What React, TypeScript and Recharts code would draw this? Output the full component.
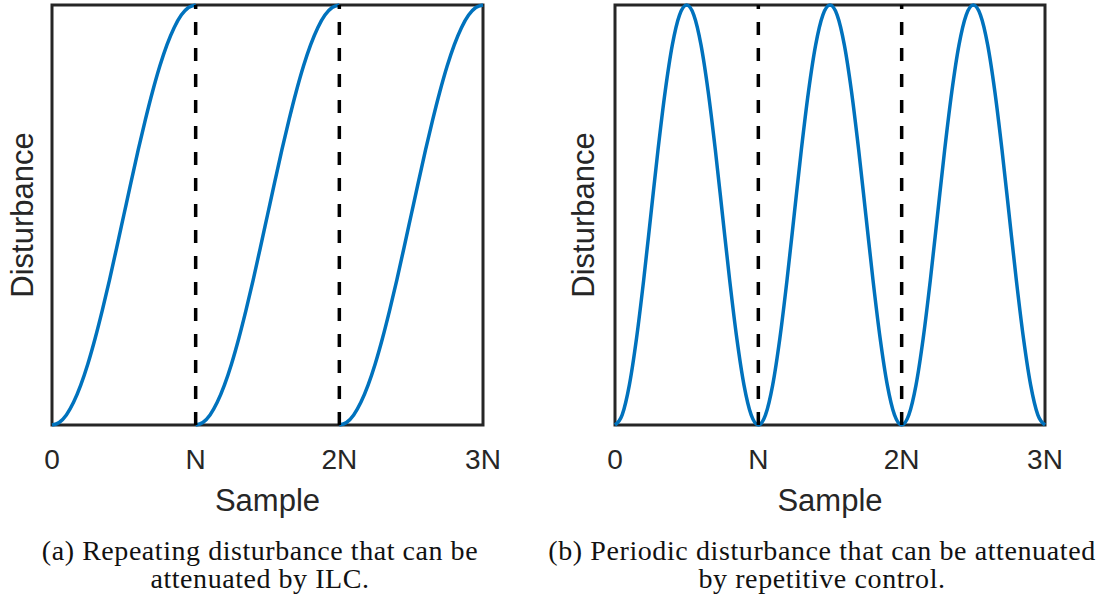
import React from "react";
import { LineChart, Line, XAxis, YAxis, ReferenceLine, ReferenceArea } from "recharts";

// Sample axis: N = 20 sample steps, three periods
const tickValues = [0, 20, 40, 60];
const tickLabels = ["0", "N", "2N", "3N"];
const periodBoundaries = [20, 40];

// (a) Repeating disturbance: one ramp per period, restarting at 0
const ilcCycle1 = [0, 0.006, 0.024, 0.054, 0.095, 0.146, 0.206, 0.273, 0.345, 0.422, 0.5, 0.578, 0.655, 0.727, 0.794, 0.854, 0.905, 0.946, 0.976, 0.994, 1];
const ilcCycle2 = [0, 0.006, 0.024, 0.054, 0.095, 0.146, 0.206, 0.273, 0.345, 0.422, 0.5, 0.578, 0.655, 0.727, 0.794, 0.854, 0.905, 0.946, 0.976, 0.994, 1];
const ilcCycle3 = [0, 0.006, 0.024, 0.054, 0.095, 0.146, 0.206, 0.273, 0.345, 0.422, 0.5, 0.578, 0.655, 0.727, 0.794, 0.854, 0.905, 0.946, 0.976, 0.994, 1];

// (b) Periodic disturbance
const rcValues = [
  0, 0.024, 0.095, 0.206, 0.345, 0.5, 0.655, 0.794, 0.905, 0.976, 1, 0.976, 0.905, 0.794, 0.655, 0.5, 0.345, 0.206, 0.095, 0.024,
  0, 0.024, 0.095, 0.206, 0.345, 0.5, 0.655, 0.794, 0.905, 0.976, 1, 0.976, 0.905, 0.794, 0.655, 0.5, 0.345, 0.206, 0.095, 0.024,
  0, 0.024, 0.095, 0.206, 0.345, 0.5, 0.655, 0.794, 0.905, 0.976, 1, 0.976, 0.905, 0.794, 0.655, 0.5, 0.345, 0.206, 0.095, 0.024,
  0,
];

const captionA = ["(a) Repeating disturbance that can be", "attenuated by ILC."];
const captionB = ["(b) Periodic disturbance that can be attenuated", "by repetitive control."];

const ilcData = rcValues.map((_, i) => ({
  x: i,
  c1: i <= 20 ? ilcCycle1[i] : null,
  c2: i >= 20 && i <= 40 ? ilcCycle2[i - 20] : null,
  c3: i >= 40 ? ilcCycle3[i - 40] : null,
}));
const rcData = rcValues.map((v, i) => ({ x: i, y: v }));

const BLUE = "#0072BD";
const AX = "#262626";
const SANS = "'Liberation Sans', Arial, Helvetica, sans-serif";
const SERIF = "'Liberation Serif', 'Times New Roman', serif";

const fmt = (v: number) => tickLabels[tickValues.indexOf(v)] ?? "";

function YLabel(props: any) {
  const vb = props.viewBox || {};
  const x = vb.x + props.cx;
  const y = vb.y + vb.height / 2;
  return (
    <text
      x={x}
      y={y}
      transform={`rotate(-90, ${x}, ${y})`}
      textAnchor="middle"
      dominantBaseline="central"
      fontFamily={SANS}
      fontSize={31}
      fill={AX}
    >
      Disturbance
    </text>
  );
}

function Panel({ data, keys, yAxisWidth, marginRight, labelCx }: any) {
  return (
    <LineChart
      width={552}
      height={530}
      data={data}
      margin={{ top: 5, right: marginRight, bottom: 5, left: 0 }}
    >
      <XAxis
        dataKey="x"
        type="number"
        domain={[0, 60]}
        ticks={tickValues}
        tickFormatter={fmt}
        axisLine={false}
        tickLine={false}
        tickSize={6}
        tickMargin={18}
        height={100}
        interval={0}
        tick={{ fontFamily: SANS, fontSize: 28, fill: AX }}
        label={{
          value: "Sample",
          position: "insideTop",
          offset: 64,
          style: { fontFamily: SANS, fontSize: 31, fill: AX },
        }}
      />
      <YAxis
        type="number"
        domain={[0, 1]}
        width={yAxisWidth}
        tick={false}
        axisLine={false}
        tickLine={false}
        label={<YLabel cx={labelCx} />}
      />
      <ReferenceArea
        x1={0}
        x2={60}
        y1={0}
        y2={1}
        fill="none"
        fillOpacity={0}
        stroke={AX}
        strokeWidth={3}
        ifOverflow="visible"
      />
      {keys.map((k: string) => (
        <Line
          key={k}
          dataKey={k}
          type="monotone"
          stroke={BLUE}
          strokeWidth={3.5}
          dot={false}
          activeDot={false}
          connectNulls={false}
          isAnimationActive={false}
        />
      ))}
      {periodBoundaries.map((b) => (
        <ReferenceLine
          key={b}
          x={b}
          stroke="#000"
          strokeWidth={3.5}
          strokeDasharray="13 13"
          ifOverflow="visible"
        />
      ))}
    </LineChart>
  );
}

function Caption({ lines, center, spacing }: { lines: string[]; center: number; spacing: number }) {
  return (
    <div
      style={{
        position: "absolute",
        left: center - 320,
        width: 640,
        top: 537,
        textAlign: "center",
        fontFamily: SERIF,
        fontSize: 28,
        lineHeight: "28px",
        letterSpacing: spacing,
        color: "#111",
        whiteSpace: "nowrap",
      }}
    >
      {lines.map((l, i) => (
        <div key={i}>{l}</div>
      ))}
    </div>
  );
}

export default function App() {
  return (
    <div
      style={{
        position: "absolute",
        left: 0,
        top: 0,
        width: 1104,
        height: 601,
        background: "#fff",
        overflow: "hidden",
      }}
    >
      <div style={{ position: "absolute", left: 0, top: 0 }}>
        <Panel data={ilcData} keys={["c1", "c2", "c3"]} yAxisWidth={52} marginRight={69} labelCx={22} />
      </div>
      <div style={{ position: "absolute", left: 552, top: 0 }}>
        <Panel data={rcData} keys={["y"]} yAxisWidth={63} marginRight={59} labelCx={31} />
      </div>
      <Caption lines={captionA} center={260} spacing={0.55} />
      <Caption lines={captionB} center={822} spacing={0.6} />
    </div>
  );
}
